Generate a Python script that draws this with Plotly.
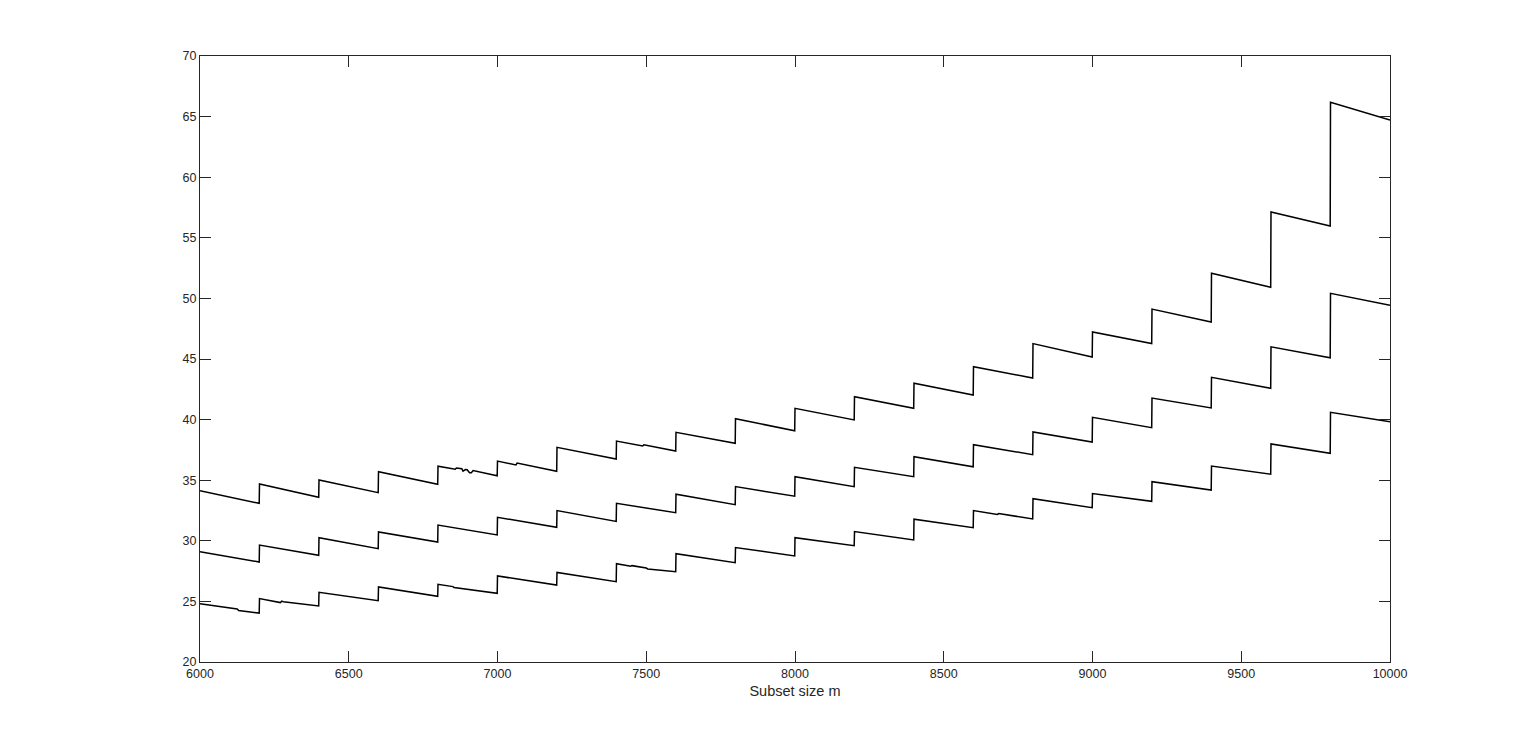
import plotly.graph_objects as go

# Jump positions (segment boundaries) of the sawtooth curves
seg_edges = [6000, 6200, 6400, 6600, 6800, 7000, 7200, 7400, 7600, 7800,
             8000, 8200, 8400, 8600, 8800, 9000, 9200, 9400, 9600, 9800, 10000]

# Value at the start (just after jump) and end (just before next jump) of each segment
top_start = [34.13, 34.69, 35.02, 35.70, 36.15, 36.58, 37.71, 38.23, 38.95, 40.07,
             40.93, 41.89, 43.00, 44.37, 46.27, 47.23, 49.12, 52.07, 57.13, 66.18]
top_end = [33.09, 33.59, 33.97, 34.66, 35.37, 35.73, 36.75, 37.41, 38.04, 39.08,
           39.97, 40.93, 42.03, 43.43, 45.17, 46.27, 48.05, 50.92, 55.97, 64.72]

mid_start = [29.10, 29.65, 30.26, 30.73, 31.30, 31.94, 32.49, 33.09, 33.84, 34.47,
             35.29, 36.06, 36.94, 37.93, 38.98, 40.19, 41.78, 43.49, 46.00, 50.42]
mid_end = [28.25, 28.80, 29.35, 29.90, 30.48, 31.11, 31.60, 32.32, 32.98, 33.68,
           34.47, 35.29, 36.11, 37.11, 38.15, 39.33, 40.96, 42.58, 45.10, 49.43]

bot_start = [24.81, 25.23, 25.75, 26.19, 26.41, 27.10, 27.39, 28.11, 28.94, 29.44,
             30.26, 30.76, 31.78, 32.49, 33.47, 33.90, 34.88, 36.17, 37.99, 40.60]
bot_end = [24.04, 24.62, 25.06, 25.42, 25.67, 26.35, 26.63, 27.45, 28.19, 28.75,
           29.60, 30.07, 31.08, 31.80, 32.73, 33.26, 34.19, 35.49, 37.22, 39.83]

# Small irregularities inside segments: (m, value)
top_glitch_x = [6858, 6862, 6880, 6884, 6892, 6898, 6906, 6912, 6918, 7062, 7066, 7488, 7492]
top_glitch_y = [35.90, 36.00, 35.95, 35.75, 35.88, 35.86, 35.62, 35.62, 35.80, 36.26, 36.42, 37.82, 37.92]
bot_glitch_x = [6105, 6125, 6130, 6270, 6275, 6280, 6850, 6854, 7448, 7452, 7500, 7505, 8680, 8685]
bot_glitch_y = [24.40, 24.38, 24.25, 24.90, 25.02, 24.98, 26.22, 26.15, 27.90, 27.95, 27.75, 27.68, 32.18, 32.25]
mid_glitch_x = []
mid_glitch_y = []

x_tick_vals = [6000, 6500, 7000, 7500, 8000, 8500, 9000, 9500, 10000]
x_tick_text = ["6000", "6500", "7000", "7500", "8000", "8500", "9000", "9500", "10000"]
y_tick_vals = [20, 25, 30, 35, 40, 45, 50, 55, 60, 65, 70]


def build(starts, ends, gx, gy):
    pts = []
    for i in range(len(starts)):
        x0, x1 = seg_edges[i], seg_edges[i + 1]
        seg = [(x0, starts[i])]
        for x, y in zip(gx, gy):
            if x0 < x < x1:
                seg.append((x, y))
        seg.append((x1 - 1 if i < len(starts) - 1 else x1, ends[i]))
        pts.extend(seg)
    return [p[0] for p in pts], [p[1] for p in pts]


fig = go.Figure()
for s, e, gx, gy in [(top_start, top_end, top_glitch_x, top_glitch_y),
                     (mid_start, mid_end, mid_glitch_x, mid_glitch_y),
                     (bot_start, bot_end, bot_glitch_x, bot_glitch_y)]:
    xs, ys = build(s, e, gx, gy)
    fig.add_trace(go.Scatter(x=xs, y=ys, mode="lines",
                             line=dict(color="black", width=1.5),
                             showlegend=False, hoverinfo="skip"))

axis_color = "#262626"
fig.update_layout(
    width=1520, height=728,
    margin=dict(l=192, r=138, t=48, b=74, autoexpand=False),
    paper_bgcolor="white", plot_bgcolor="white",
    font=dict(family="Liberation Sans, Arial, Helvetica", size=12.5, color=axis_color),
    xaxis=dict(range=[6000, 10000], tickvals=x_tick_vals, ticktext=x_tick_text,
               ticks="inside", ticklen=11, tickwidth=1, tickcolor=axis_color,
               showline=True, linecolor=axis_color, linewidth=1, mirror="ticks",
               showgrid=False, zeroline=False,
               title=dict(text="Subset size m", font=dict(size=14.5), standoff=5)),
    yaxis=dict(range=[20, 70], tickvals=y_tick_vals,
               ticks="inside", ticklen=11, tickwidth=1, tickcolor=axis_color,
               showline=True, linecolor=axis_color, linewidth=1, mirror="ticks",
               showgrid=False, zeroline=False),
)

fig.write_html("out.html")
